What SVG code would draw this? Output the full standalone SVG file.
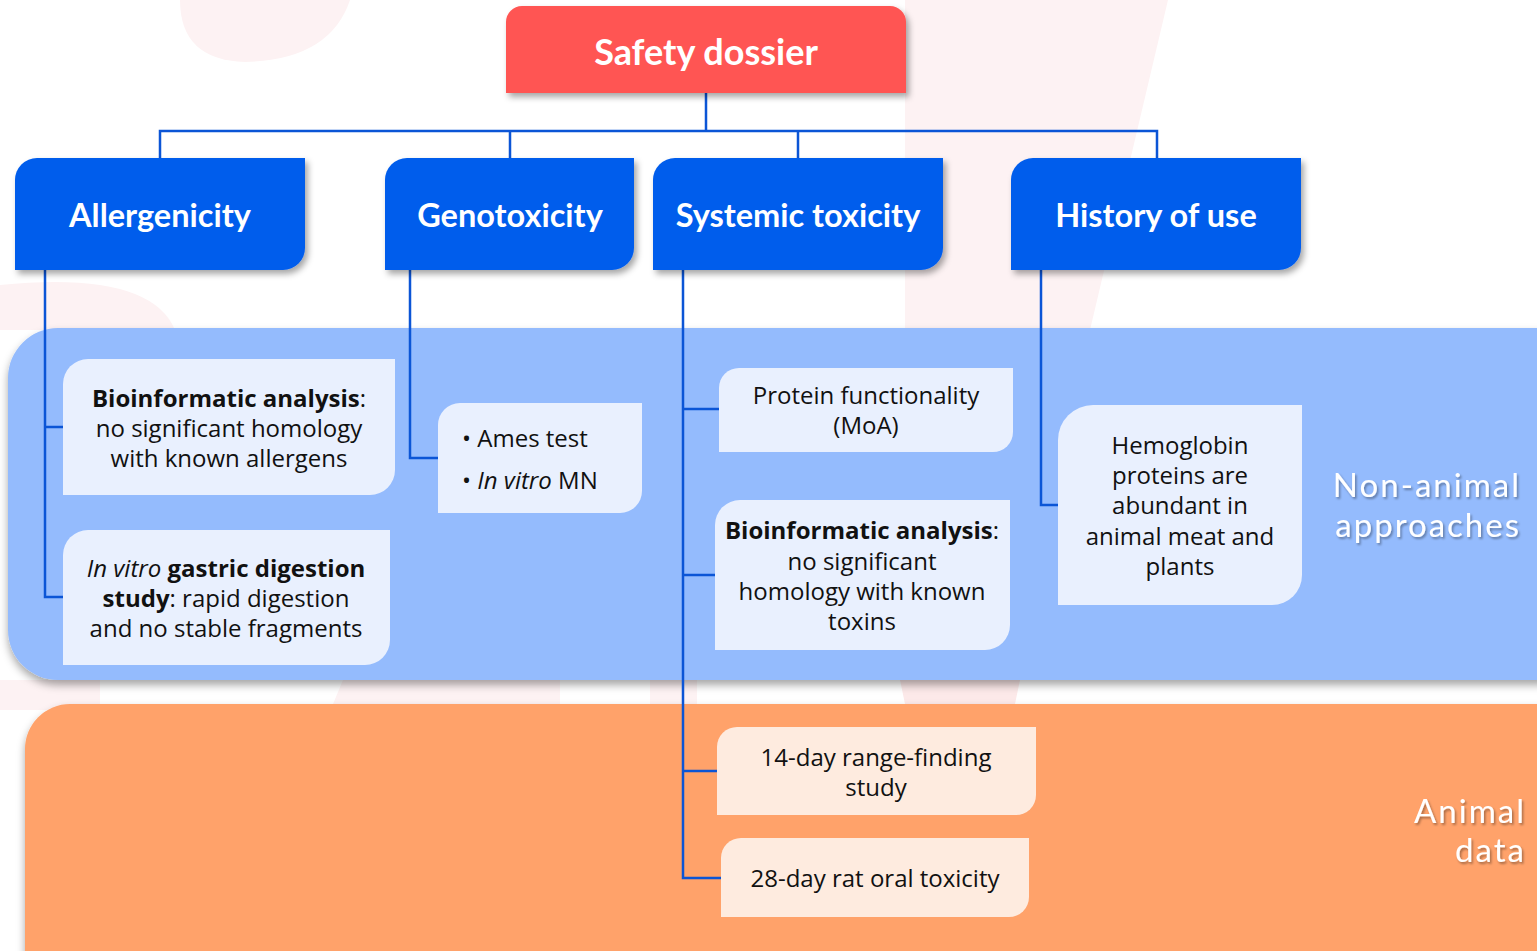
<svg xmlns="http://www.w3.org/2000/svg" width="1537" height="951" viewBox="0 0 1537 951">
<defs>
<style>
.hd{font-family:Lato,"Open Sans",sans-serif;font-weight:700;fill:#fff;text-anchor:middle}
.tx{font-family:"Open Sans",Lato,sans-serif;font-size:24px;fill:#111;text-anchor:middle}
.b{font-weight:700}
.i{font-style:italic}
.cat{font-family:Lato,"Open Sans",sans-serif;font-size:33px;letter-spacing:2px;fill:#fff;text-anchor:end}
.ln{fill:none;stroke:#0B55D6;stroke-width:2.5}
.cat-blue{fill:#94BBFD}
.cat-org{fill:#FFA26A}
.lb{fill:#E9F0FE}
.lo{fill:#FEEBDF}
.hb{fill:#005DEC}
.pk{fill:#FDF2F3}
</style>
<filter id="sh" x="-10%" y="-10%" width="130%" height="140%">
<feDropShadow dx="3" dy="4" stdDeviation="3" flood-color="#000" flood-opacity="0.35"/>
</filter>
<filter id="sh2" x="-5%" y="-5%" width="115%" height="120%">
<feDropShadow dx="0" dy="5" stdDeviation="4" flood-color="#000" flood-opacity="0.35"/>
</filter>
<filter id="ts" x="-10%" y="-20%" width="130%" height="150%">
<feDropShadow dx="1.5" dy="2" stdDeviation="1.2" flood-color="#000" flood-opacity="0.35"/>
</filter>
</defs>
<rect width="1537" height="951" fill="#fff"/>
<g id="background">
<path class="pk" d="M180,0 H350 Q330,60 245,62 Q180,60 180,0 Z"/>
<polygon class="pk" points="905,0 1168,0 1090,330 905,330"/>
<path class="pk" d="M0,285 Q150,270 175,330 L0,330 Z"/>
<rect class="pk" x="0" y="680" width="100" height="30"/>
<polygon class="pk" points="343,680 560,680 560,704 333,704"/>
<rect class="pk" x="650" y="680" width="47" height="24"/>
<polygon points="900,680 1020,680 1015,704 905,704" fill="#FCE9E9"/>
</g>
<g id="region-non-animal">
<rect class="cat-blue" x="8" y="328" width="1580" height="352" rx="50" filter="url(#sh2)"/>
<text class="cat" filter="url(#ts)" x="1521" y="497">Non-animal</text>
<text class="cat" filter="url(#ts)" x="1521" y="537">approaches</text>
</g>
<g id="region-animal">
<rect class="cat-org" x="25" y="704" width="1580" height="300" rx="45" filter="url(#sh2)"/>
<text class="cat" filter="url(#ts)" x="1526" y="823">Animal</text>
<text class="cat" filter="url(#ts)" x="1526" y="862">data</text>
</g>
<g id="connectors">
<path class="ln" d="M706,93 V131 M160,158 V131 H1157 V158 M510,131 V158 M798,131 V158"/>
<path class="ln" d="M45,270 V597 H63 M45,427 H63"/>
<path class="ln" d="M410,270 V458 H438"/>
<path class="ln" d="M683,270 V878 H721 M683,409 H719 M683,575 H715 M683,771 H717"/>
<path class="ln" d="M1041,270 V505 H1058"/>
</g>
<g id="safety-dossier">
<path d="M522,6 H890 A16,16 0 0 1 906,22 V93 H506 V22 A16,16 0 0 1 522,6 Z" fill="#FF5552" filter="url(#sh)"/>
<text class="hd" x="706" y="65" font-size="36">Safety dossier</text>
</g>
<g id="allergenicity">
<path class="hb" d="M37,158 H305 V248 A22,22 0 0 1 283,270 H15 V180 A22,22 0 0 1 37,158 Z" filter="url(#sh)"/>
<text class="hd" x="160" y="227" font-size="32.5">Allergenicity</text>
</g>
<g id="genotoxicity">
<path class="hb" d="M407,158 H634 V248 A22,22 0 0 1 612,270 H385 V180 A22,22 0 0 1 407,158 Z" filter="url(#sh)"/>
<text class="hd" x="510" y="227" font-size="32.5">Genotoxicity</text>
</g>
<g id="systemic-toxicity">
<path class="hb" d="M675,158 H943 V248 A22,22 0 0 1 921,270 H653 V180 A22,22 0 0 1 675,158 Z" filter="url(#sh)"/>
<text class="hd" x="798" y="227" font-size="32.5">Systemic toxicity</text>
</g>
<g id="history-of-use">
<path class="hb" d="M1033,158 H1301 V248 A22,22 0 0 1 1279,270 H1011 V180 A22,22 0 0 1 1033,158 Z" filter="url(#sh)"/>
<text class="hd" x="1156" y="227" font-size="32.5">History of use</text>
</g>
<g id="bioinformatic-allergens">
<path class="lb" d="M88,359 H395 V470 A25,25 0 0 1 370,495 H63 V384 A25,25 0 0 1 88,359 Z"/>
<text class="tx"><tspan x="229" y="407"><tspan class="b">Bioinformatic analysis</tspan>:</tspan><tspan x="229" y="437">no significant homology</tspan><tspan x="229" y="467">with known allergens</tspan></text>
</g>
<g id="gastric-digestion">
<path class="lb" d="M88,530 H390 V640 A25,25 0 0 1 365,665 H63 V555 A25,25 0 0 1 88,530 Z"/>
<text class="tx"><tspan x="226" y="577"><tspan class="i">In vitro</tspan> <tspan class="b">gastric digestion</tspan></tspan><tspan x="226" y="607"><tspan class="b">study</tspan>: rapid digestion</tspan><tspan x="226" y="637">and no stable fragments</tspan></text>
</g>
<g id="ames">
<path class="lb" d="M460,403 H642 V491 A22,22 0 0 1 620,513 H438 V425 A22,22 0 0 1 460,403 Z"/>
<text class="tx" style="text-anchor:start"><tspan x="462" y="447">• Ames test</tspan><tspan x="462" y="489">• <tspan class="i">In vitro</tspan> MN</tspan></text>
</g>
<g id="protein-functionality">
<path class="lb" d="M739,368 H1013 V432 A20,20 0 0 1 993,452 H719 V388 A20,20 0 0 1 739,368 Z"/>
<text class="tx"><tspan x="866" y="404">Protein functionality</tspan><tspan x="866" y="434">(MoA)</tspan></text>
</g>
<g id="bioinformatic-toxins">
<path class="lb" d="M740,500 H1010 V625 A25,25 0 0 1 985,650 H715 V525 A25,25 0 0 1 740,500 Z"/>
<text class="tx"><tspan x="862" y="539"><tspan class="b">Bioinformatic analysis</tspan>:</tspan><tspan x="862" y="570">no significant</tspan><tspan x="862" y="600">homology with known</tspan><tspan x="862" y="630">toxins</tspan></text>
</g>
<g id="hemoglobin">
<path class="lb" d="M1093,405 H1302 V575 A30,30 0 0 1 1272,605 H1058 V440 A35,35 0 0 1 1093,405 Z"/>
<text class="tx"><tspan x="1180" y="454">Hemoglobin</tspan><tspan x="1180" y="484">proteins are</tspan><tspan x="1180" y="514">abundant in</tspan><tspan x="1180" y="545">animal meat and</tspan><tspan x="1180" y="575">plants</tspan></text>
</g>
<g id="range-finding">
<path class="lo" d="M737,727 H1036 V795 A20,20 0 0 1 1016,815 H717 V747 A20,20 0 0 1 737,727 Z"/>
<text class="tx"><tspan x="876" y="766">14-day range-finding</tspan><tspan x="876" y="796">study</tspan></text>
</g>
<g id="rat-oral-toxicity">
<path class="lo" d="M741,838 H1029 V897 A20,20 0 0 1 1009,917 H721 V858 A20,20 0 0 1 741,838 Z"/>
<text class="tx" x="875" y="887">28-day rat oral toxicity</text>
</g>
</svg>
